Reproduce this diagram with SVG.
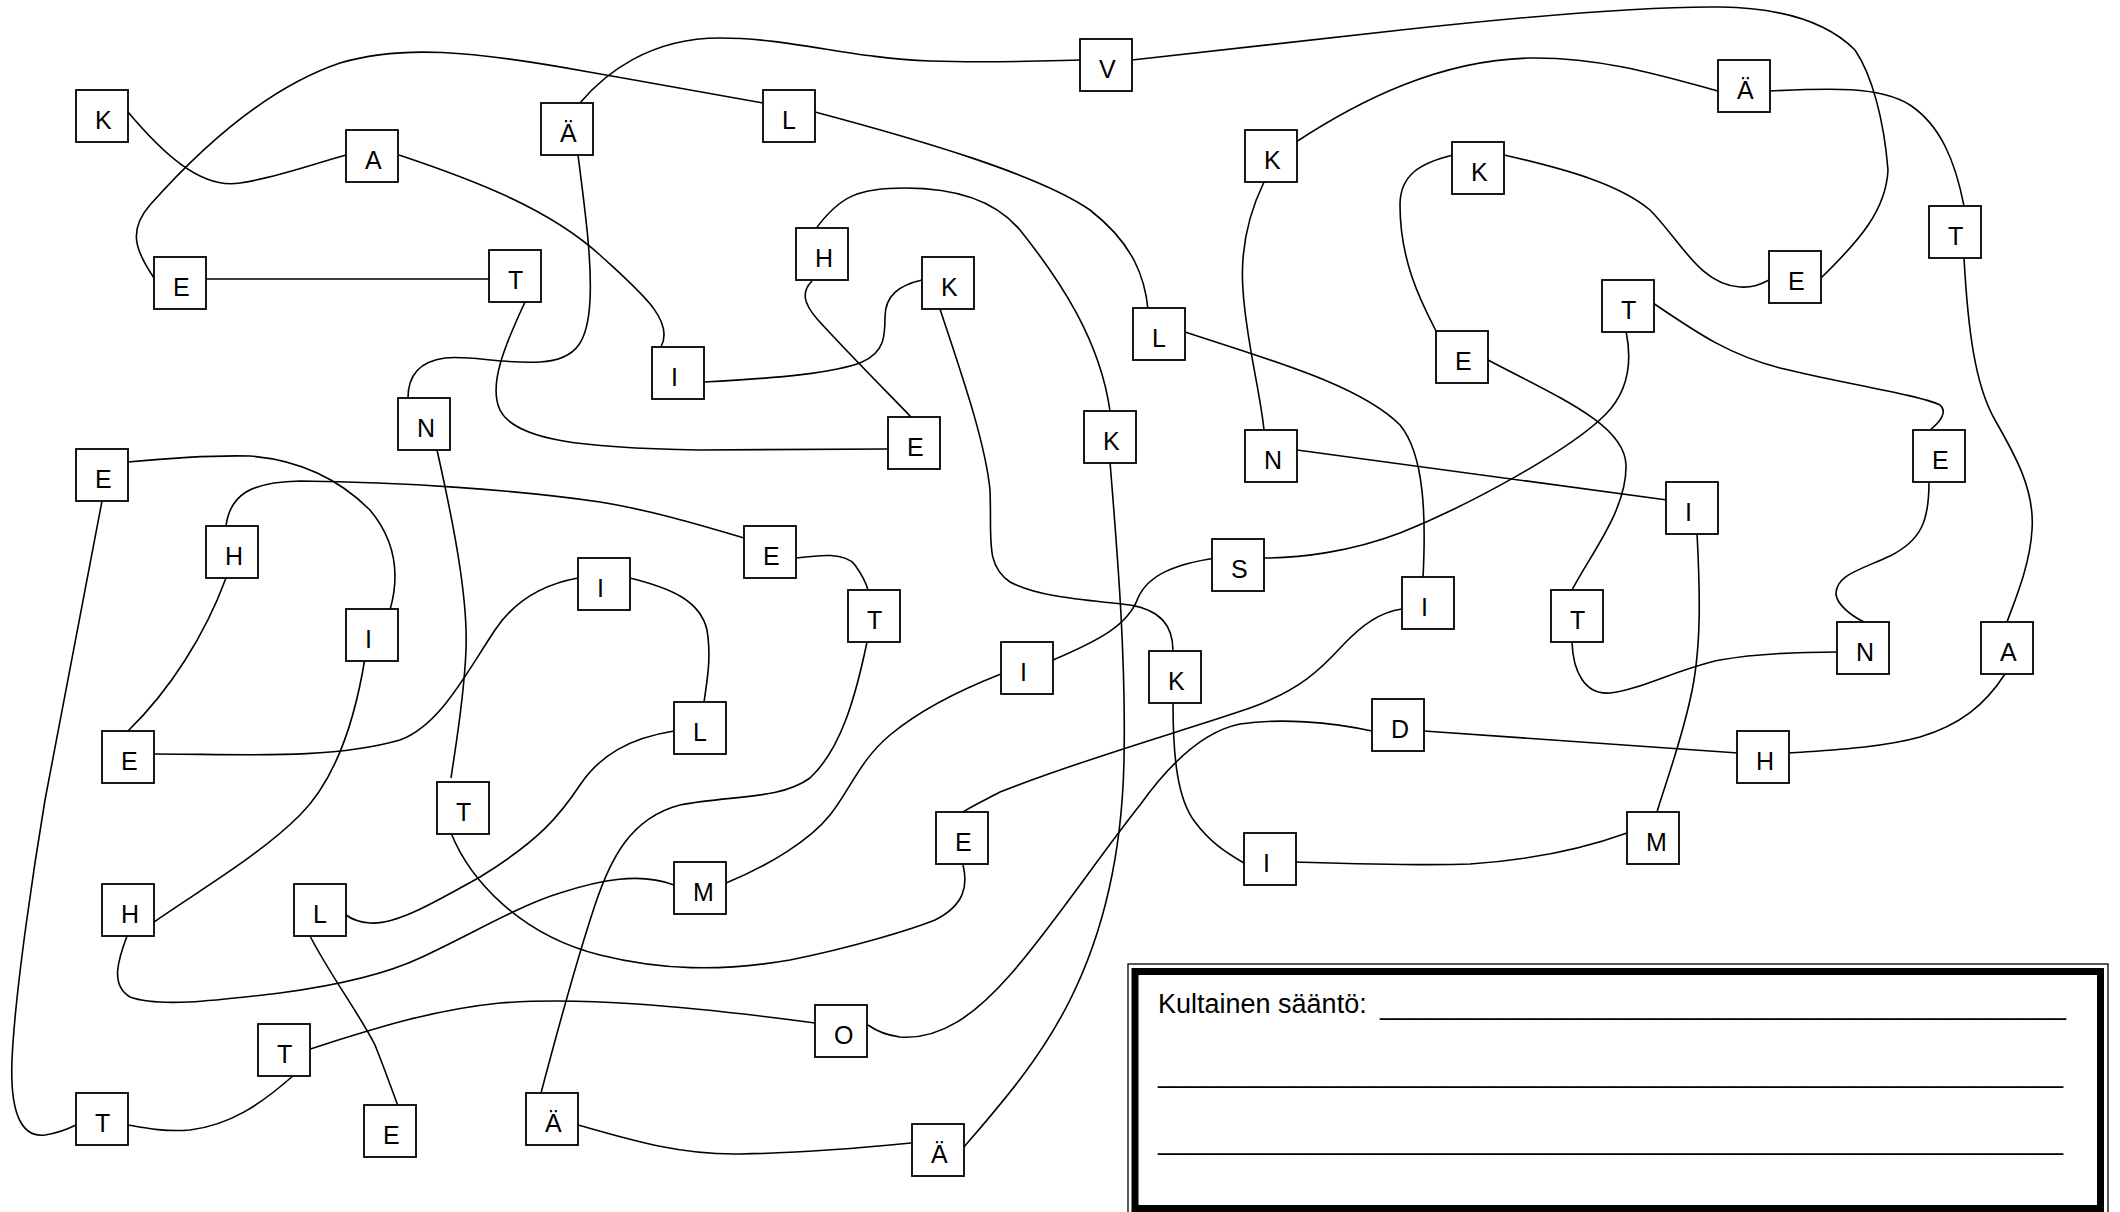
<svg xmlns="http://www.w3.org/2000/svg" width="2120" height="1212" viewBox="0 0 2120 1212">
<style>
.n rect{fill:#fff;stroke:#000;stroke-width:1.8}
.n text{font-family:"Liberation Sans",Arial,sans-serif;font-size:25px;fill:#000}
#connectors path{fill:none;stroke:#000;stroke-width:1.6}
.ft{font-family:"Liberation Sans",Arial,sans-serif;font-size:27px;fill:#000}
</style>
<rect width="2120" height="1212" fill="#fff"/>
<g id="connectors">
<path d="M128,112 C160,150 200,190 240,183 C275,178 310,165 346,155"/>
<path d="M399,155 C480,182 550,210 600,255 C640,292 675,320 661,347"/>
<path d="M579,104 C605,73 650,38 720,38 C790,38 850,58 930,61 C990,63 1040,61 1080,60"/>
<path d="M578,155 C585,210 592,260 590,300 C588,340 578,360 540,362 C500,364 470,355 445,358 C415,362 408,380 408,398"/>
<path d="M154,278 C135,250 128,230 150,205 C190,160 260,90 340,63 C400,45 470,50 589,72 C650,83 720,95 763,103"/>
<path d="M206,279 L489,279"/>
<path d="M525,302 C505,345 488,385 500,410 C515,440 580,448 700,450 L888,449"/>
<path d="M815,112 C920,140 1040,175 1090,210 C1135,245 1145,280 1148,309"/>
<path d="M1132,60 L1410,29 C1550,14 1650,6 1720,7 C1790,8 1830,25 1855,50 C1872,75 1884,120 1888,170 C1886,210 1860,240 1821,278"/>
<path d="M1296,142 C1360,100 1440,60 1530,58 C1600,57 1660,75 1718,91"/>
<path d="M1264,182 C1248,215 1240,250 1243,290 C1246,340 1260,390 1264,430"/>
<path d="M815,230 C840,195 860,188 905,188 C955,188 995,200 1020,230 C1060,280 1100,340 1110,411"/>
<path d="M812,281 C802,291 802,302 818,320 C850,355 885,390 911,417"/>
<path d="M704,382 C780,378 835,373 862,362 C885,352 885,335 885,317 C885,295 900,285 922,280"/>
<path d="M940,309 C960,370 985,440 990,490 C992,540 985,565 1010,582 C1040,598 1090,600 1130,605 C1160,610 1173,625 1173,651"/>
<path d="M1185,332 C1270,360 1360,385 1400,425 C1425,455 1426,520 1423,578"/>
<path d="M1769,91 C1830,88 1880,86 1910,105 C1940,125 1955,160 1964,206"/>
<path d="M1504,155 C1570,170 1620,185 1650,210 C1680,240 1700,285 1740,287 C1755,288 1762,283 1769,280"/>
<path d="M1453,155 C1420,163 1400,175 1400,205 C1400,260 1420,300 1436,331"/>
<path d="M1653,303 C1700,335 1730,355 1780,368 C1840,383 1920,395 1940,405 C1948,412 1940,422 1930,430"/>
<path d="M1626,331 C1632,360 1630,390 1605,415 C1570,450 1470,505 1400,533 C1350,552 1300,558 1264,558"/>
<path d="M1488,360 C1560,398 1625,425 1626,465 C1627,510 1590,555 1572,590"/>
<path d="M1964,258 C1968,330 1975,385 1995,420 C2015,455 2035,490 2032,530 C2030,565 2015,600 2007,622"/>
<path d="M1929,482 C1929,520 1922,540 1890,556 C1860,570 1835,575 1836,595 C1838,605 1850,615 1864,622"/>
<path d="M1297,450 L1667,500"/>
<path d="M1697,533 C1700,590 1702,650 1690,700 C1680,745 1665,785 1657,812"/>
<path d="M1572,642 C1573,672 1585,695 1610,693 C1640,690 1680,668 1720,660 C1760,653 1800,652 1838,652"/>
<path d="M2005,674 C1985,705 1960,725 1920,737 C1880,748 1830,750 1789,753"/>
<path d="M1424,731 L1738,753"/>
<path d="M128,462 C170,458 210,455 250,456 C300,460 340,480 370,510 C395,540 400,575 390,610"/>
<path d="M226,526 C230,495 250,482 300,481 C400,482 520,490 600,502 C650,510 700,525 744,538"/>
<path d="M226,578 C205,635 170,690 128,731"/>
<path d="M102,501 L45,800 C35,860 15,990 12,1060 C10,1110 20,1138 45,1135 C58,1133 68,1129 76,1125"/>
<path d="M437,450 C455,530 468,600 466,650 C464,700 455,750 451,778"/>
<path d="M630,578 C670,588 700,600 707,630 C712,660 706,685 704,703"/>
<path d="M578,578 C545,584 515,600 495,630 C465,675 440,725 400,740 C330,760 240,754 154,754"/>
<path d="M365,658 C355,720 335,780 300,815 C260,855 200,890 154,922"/>
<path d="M674,731 C630,738 600,755 580,785 C560,815 540,840 480,877 C430,905 395,925 370,923 C358,922 350,918 346,915"/>
<path d="M796,558 C820,555 845,552 855,565 C862,575 866,582 868,590"/>
<path d="M867,642 C855,700 840,750 810,778 C780,800 730,795 680,805 C630,818 610,860 595,905 C575,965 555,1040 541,1093"/>
<path d="M1110,462 C1118,560 1126,660 1124,760 C1122,860 1100,940 1070,1000 C1040,1060 1000,1105 964,1147"/>
<path d="M1216,558 C1175,564 1148,575 1138,598 C1128,625 1100,640 1053,660"/>
<path d="M1001,674 C960,690 920,710 890,735 C860,760 850,790 830,815 C810,840 770,865 726,883"/>
<path d="M1173,703 C1173,760 1178,800 1195,822 C1210,842 1225,852 1244,863"/>
<path d="M1402,609 C1380,612 1362,625 1343,645 C1320,670 1300,690 1250,708 C1180,732 1080,760 1000,792 C985,800 972,806 963,812"/>
<path d="M1372,731 C1330,722 1280,718 1240,724 C1200,732 1165,770 1140,805 C1100,855 1050,930 1010,975 C975,1015 940,1040 900,1037 C885,1035 875,1030 868,1025"/>
<path d="M451,833 C470,880 520,935 600,955 C660,970 720,972 790,960 C850,948 910,930 935,920 C965,905 968,885 963,865"/>
<path d="M127,936 C118,960 110,985 130,997 C160,1008 220,1000 280,993 C340,985 390,972 420,958 C470,935 520,905 560,893 C600,880 640,872 674,885"/>
<path d="M310,936 C330,975 360,1015 375,1045 C385,1070 392,1090 398,1106"/>
<path d="M310,1049 C370,1030 430,1010 500,1003 C580,997 680,1005 815,1023"/>
<path d="M294,1075 C260,1105 230,1125 190,1130 C165,1132 145,1128 128,1125"/>
<path d="M578,1125 C630,1140 680,1155 740,1154 C800,1153 860,1148 911,1143"/>
<path d="M1296,862 C1360,864 1420,866 1470,864 C1530,860 1580,850 1627,833"/>
</g>
<g id="n1" class="n" transform="translate(76,90)"><rect width="52" height="52"/><text x="19" y="39">K</text></g>
<g id="n2" class="n" transform="translate(346,130)"><rect width="52" height="52"/><text x="19" y="39">A</text></g>
<g id="n3" class="n" transform="translate(541,103)"><rect width="52" height="52"/><text x="19" y="39">Ä</text></g>
<g id="n4" class="n" transform="translate(763,90)"><rect width="52" height="52"/><text x="19" y="39">L</text></g>
<g id="n5" class="n" transform="translate(1080,39)"><rect width="52" height="52"/><text x="19" y="39">V</text></g>
<g id="n6" class="n" transform="translate(154,257)"><rect width="52" height="52"/><text x="19" y="39">E</text></g>
<g id="n7" class="n" transform="translate(489,250)"><rect width="52" height="52"/><text x="19" y="39">T</text></g>
<g id="n8" class="n" transform="translate(796,228)"><rect width="52" height="52"/><text x="19" y="39">H</text></g>
<g id="n9" class="n" transform="translate(922,257)"><rect width="52" height="52"/><text x="19" y="39">K</text></g>
<g id="n10" class="n" transform="translate(652,347)"><rect width="52" height="52"/><text x="19" y="39">I</text></g>
<g id="n11" class="n" transform="translate(398,398)"><rect width="52" height="52"/><text x="19" y="39">N</text></g>
<g id="n12" class="n" transform="translate(888,417)"><rect width="52" height="52"/><text x="19" y="39">E</text></g>
<g id="n13" class="n" transform="translate(1133,308)"><rect width="52" height="52"/><text x="19" y="39">L</text></g>
<g id="n14" class="n" transform="translate(1084,411)"><rect width="52" height="52"/><text x="19" y="39">K</text></g>
<g id="n15" class="n" transform="translate(1245,130)"><rect width="52" height="52"/><text x="19" y="39">K</text></g>
<g id="n16" class="n" transform="translate(1245,430)"><rect width="52" height="52"/><text x="19" y="39">N</text></g>
<g id="n17" class="n" transform="translate(1718,60)"><rect width="52" height="52"/><text x="19" y="39">Ä</text></g>
<g id="n18" class="n" transform="translate(1452,142)"><rect width="52" height="52"/><text x="19" y="39">K</text></g>
<g id="n19" class="n" transform="translate(1769,251)"><rect width="52" height="52"/><text x="19" y="39">E</text></g>
<g id="n20" class="n" transform="translate(1929,206)"><rect width="52" height="52"/><text x="19" y="39">T</text></g>
<g id="n21" class="n" transform="translate(1602,280)"><rect width="52" height="52"/><text x="19" y="39">T</text></g>
<g id="n22" class="n" transform="translate(1436,331)"><rect width="52" height="52"/><text x="19" y="39">E</text></g>
<g id="n23" class="n" transform="translate(1913,430)"><rect width="52" height="52"/><text x="19" y="39">E</text></g>
<g id="n24" class="n" transform="translate(1666,482)"><rect width="52" height="52"/><text x="19" y="39">I</text></g>
<g id="n25" class="n" transform="translate(1212,539)"><rect width="52" height="52"/><text x="19" y="39">S</text></g>
<g id="n26" class="n" transform="translate(1402,577)"><rect width="52" height="52"/><text x="19" y="39">I</text></g>
<g id="n27" class="n" transform="translate(1551,590)"><rect width="52" height="52"/><text x="19" y="39">T</text></g>
<g id="n28" class="n" transform="translate(1837,622)"><rect width="52" height="52"/><text x="19" y="39">N</text></g>
<g id="n29" class="n" transform="translate(1981,622)"><rect width="52" height="52"/><text x="19" y="39">A</text></g>
<g id="n30" class="n" transform="translate(76,449)"><rect width="52" height="52"/><text x="19" y="39">E</text></g>
<g id="n31" class="n" transform="translate(206,526)"><rect width="52" height="52"/><text x="19" y="39">H</text></g>
<g id="n32" class="n" transform="translate(744,526)"><rect width="52" height="52"/><text x="19" y="39">E</text></g>
<g id="n33" class="n" transform="translate(578,558)"><rect width="52" height="52"/><text x="19" y="39">I</text></g>
<g id="n34" class="n" transform="translate(848,590)"><rect width="52" height="52"/><text x="19" y="39">T</text></g>
<g id="n35" class="n" transform="translate(346,609)"><rect width="52" height="52"/><text x="19" y="39">I</text></g>
<g id="n36" class="n" transform="translate(674,702)"><rect width="52" height="52"/><text x="19" y="39">L</text></g>
<g id="n37" class="n" transform="translate(102,731)"><rect width="52" height="52"/><text x="19" y="39">E</text></g>
<g id="n38" class="n" transform="translate(1001,642)"><rect width="52" height="52"/><text x="19" y="39">I</text></g>
<g id="n39" class="n" transform="translate(1149,651)"><rect width="52" height="52"/><text x="19" y="39">K</text></g>
<g id="n40" class="n" transform="translate(1372,699)"><rect width="52" height="52"/><text x="19" y="39">D</text></g>
<g id="n41" class="n" transform="translate(1737,731)"><rect width="52" height="52"/><text x="19" y="39">H</text></g>
<g id="n42" class="n" transform="translate(437,782)"><rect width="52" height="52"/><text x="19" y="39">T</text></g>
<g id="n43" class="n" transform="translate(936,812)"><rect width="52" height="52"/><text x="19" y="39">E</text></g>
<g id="n44" class="n" transform="translate(1627,812)"><rect width="52" height="52"/><text x="19" y="39">M</text></g>
<g id="n45" class="n" transform="translate(1244,833)"><rect width="52" height="52"/><text x="19" y="39">I</text></g>
<g id="n46" class="n" transform="translate(674,862)"><rect width="52" height="52"/><text x="19" y="39">M</text></g>
<g id="n47" class="n" transform="translate(102,884)"><rect width="52" height="52"/><text x="19" y="39">H</text></g>
<g id="n48" class="n" transform="translate(294,884)"><rect width="52" height="52"/><text x="19" y="39">L</text></g>
<g id="n49" class="n" transform="translate(258,1024)"><rect width="52" height="52"/><text x="19" y="39">T</text></g>
<g id="n50" class="n" transform="translate(815,1005)"><rect width="52" height="52"/><text x="19" y="39">O</text></g>
<g id="n51" class="n" transform="translate(76,1093)"><rect width="52" height="52"/><text x="19" y="39">T</text></g>
<g id="n52" class="n" transform="translate(364,1105)"><rect width="52" height="52"/><text x="19" y="39">E</text></g>
<g id="n53" class="n" transform="translate(526,1093)"><rect width="52" height="52"/><text x="19" y="39">Ä</text></g>
<g id="n54" class="n" transform="translate(912,1124)"><rect width="52" height="52"/><text x="19" y="39">Ä</text></g>
<g id="rule-box">
<rect x="1128" y="964" width="980" height="300" fill="#fff" stroke="#000" stroke-width="1.3"/>
<rect x="1135" y="971.5" width="965.5" height="237" fill="none" stroke="#000" stroke-width="7"/>
<text class="ft" x="1158" y="1013">Kultainen sääntö:</text>
<text class="ft" x="1380" y="1014" textLength="686" lengthAdjust="spacingAndGlyphs">_____________________________________________</text>
<text class="ft" x="1158" y="1082" textLength="905" lengthAdjust="spacingAndGlyphs">____________________________________________________________</text>
<text class="ft" x="1158" y="1149" textLength="905" lengthAdjust="spacingAndGlyphs">____________________________________________________________</text>
</g>
</svg>
